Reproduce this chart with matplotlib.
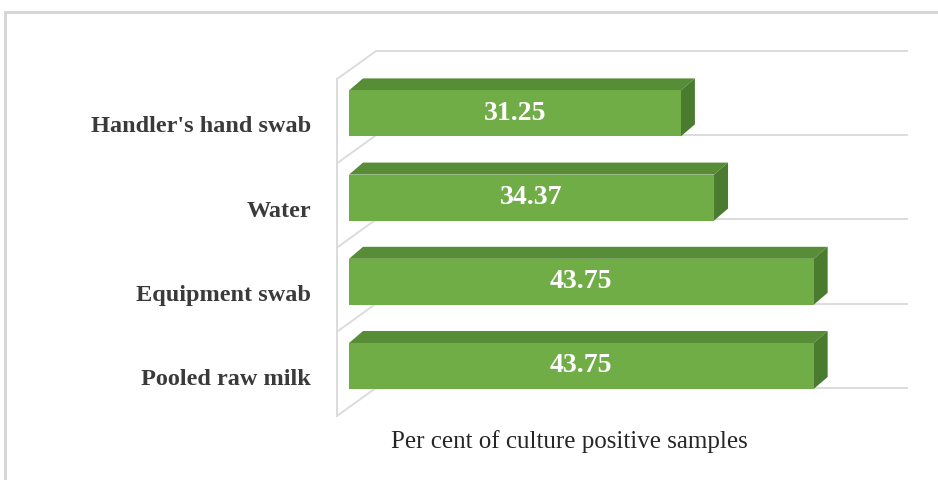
import matplotlib.pyplot as plt
from matplotlib.patches import Polygon, Rectangle
from matplotlib.transforms import ScaledTranslation

# data (bottom to top)
categories = ["Pooled raw milk", "Equipment swab", "Water", "Handler's hand swab"]
values = [43.75, 43.75, 34.37, 31.25]
x_title = "Per cent of culture positive samples"

front_col = "#70ad47"
top_col = "#578d37"
side_col = "#4b7b2f"
grid_col = "#dcdcdc"

fig = plt.figure(figsize=(9.38, 4.8), dpi=100)
ax = fig.add_axes([330 / 938, 50 / 480, 608 / 938, 400 / 480])
ax.set_xlim(-1.789, 55.46)
ax.set_ylim(-0.760, 3.990)

# 3d look: depth of bars and of the walls (data units)
h = 0.546
bdx, bdy = 1.32, 0.1425
wx0, wx1 = -1.13, 2.54
wdy = 0.333
top_b = -0.26

n = len(categories)
# back wall gridlines + diagonals to the front-left wall
for k in range(n + 1):
    yb = k + top_b
    ax.plot([wx1, wx1 + 50], [yb, yb], color=grid_col, lw=1.4, zorder=1)
    ax.plot([wx0, wx1], [yb - wdy, yb], color=grid_col, lw=1.4, zorder=1)
ax.plot([wx0, wx0], [top_b - wdy, n + top_b - wdy], color=grid_col, lw=1.4, zorder=1)

# bars
ax.barh(range(n), values, height=h, left=0, color=front_col, zorder=3)
for i, v in enumerate(values):
    yt = i + h / 2
    yb = i - h / 2
    ax.add_patch(Polygon([(0, yt), (v, yt), (v + bdx, yt + bdy), (bdx, yt + bdy)],
                         closed=True, color=top_col, zorder=2, lw=0))
    ax.add_patch(Polygon([(v, yb), (v, yt), (v + bdx, yt + bdy), (v + bdx, yb + bdy)],
                         closed=True, color=side_col, zorder=2, lw=0))
    ax.text(v / 2, i, f"{v:.2f}", ha="center", va="center", color="white",
            fontsize=20, fontweight="bold", family="Liberation Serif", zorder=4)

ax.set_yticks(range(n))
ax.set_yticklabels(categories, fontsize=17.5, fontweight="bold",
                   family="Liberation Serif", color="#3a3a3a")
ax.tick_params(axis="y", length=0, pad=13.7)
off = ScaledTranslation(0, -0.11, fig.dpi_scale_trans)
for lbl in ax.get_yticklabels():
    lbl.set_transform(lbl.get_transform() + off)
ax.set_xticks([])
for s in ax.spines.values():
    s.set_visible(False)
ax.patch.set_alpha(0)

fig.text(569 / 938, 1 - 442 / 480, x_title, ha="center", va="center",
         fontsize=18, family="Liberation Serif", color="#262626")

# outer chart border
fig.patches.append(Rectangle((5 / 938, -0.1), 2, 1.1 - 12 / 480, fill=False,
                             edgecolor="#d4d4d4", lw=2, transform=fig.transFigure))

fig.savefig("out.png", dpi=100)
